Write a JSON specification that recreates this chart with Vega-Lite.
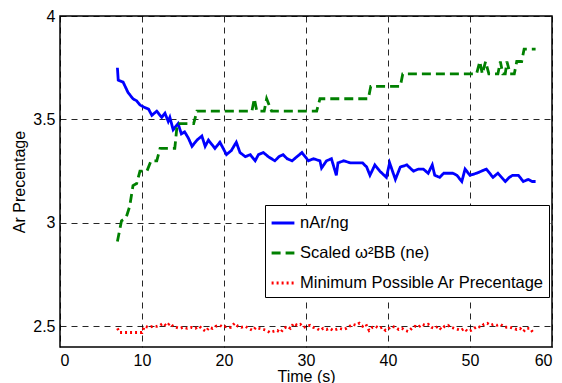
{
  "$schema": "https://vega.github.io/schema/vega-lite/v6.json",
  "width": 492,
  "height": 331,
  "autosize": {"type": "none"},
  "padding": {"left": 60, "top": 16, "right": 10, "bottom": 36},
  "background": "white",
  "config": {
    "font": "Liberation Sans",
    "view": {"stroke": "#000", "strokeWidth": 1.5},
    "axis": {
      "domain": false,
      "ticks": false,
      "grid": true,
      "gridColor": "#000",
      "gridDash": [6, 5],
      "gridOpacity": 0.85,
      "gridWidth": 1,
      "labelFont": "Liberation Sans",
      "labelFontSize": 16,
      "labelColor": "#000",
      "titleFont": "Liberation Sans",
      "titleFontSize": 16,
      "titleFontWeight": "normal",
      "titleColor": "#000"
    },
    "legend": {
      "title": null,
      "orient": "none",
      "legendX": 205,
      "legendY": 189,
      "direction": "vertical",
      "strokeColor": "#000",
      "fillColor": "#fff",
      "padding": 5,
      "rowPadding": 8,
      "labelFont": "Liberation Sans",
      "labelFontSize": 16.5,
      "labelColor": "#000",
      "labelOffset": 4,
      "labelLimit": 0,
      "symbolType": "stroke",
      "symbolSize": 520,
      "symbolStrokeWidth": 2.8
    }
  },
  "datasets": {
    "series": [
      {"t": 7.0, "y": 3.75, "s": "ratio"},
      {"t": 7.1, "y": 3.69, "s": "ratio"},
      {"t": 7.7, "y": 3.68, "s": "ratio"},
      {"t": 8.3, "y": 3.63, "s": "ratio"},
      {"t": 8.9, "y": 3.60, "s": "ratio"},
      {"t": 9.35, "y": 3.59, "s": "ratio"},
      {"t": 9.75, "y": 3.57, "s": "ratio"},
      {"t": 10.2, "y": 3.56, "s": "ratio"},
      {"t": 10.8, "y": 3.55, "s": "ratio"},
      {"t": 11.2, "y": 3.52, "s": "ratio"},
      {"t": 11.8, "y": 3.54, "s": "ratio"},
      {"t": 12.4, "y": 3.51, "s": "ratio"},
      {"t": 12.8, "y": 3.53, "s": "ratio"},
      {"t": 13.2, "y": 3.49, "s": "ratio"},
      {"t": 13.4, "y": 3.51, "s": "ratio"},
      {"t": 13.8, "y": 3.45, "s": "ratio"},
      {"t": 14.4, "y": 3.48, "s": "ratio"},
      {"t": 14.8, "y": 3.43, "s": "ratio"},
      {"t": 15.2, "y": 3.44, "s": "ratio"},
      {"t": 15.65, "y": 3.41, "s": "ratio"},
      {"t": 16.1, "y": 3.37, "s": "ratio"},
      {"t": 16.7, "y": 3.40, "s": "ratio"},
      {"t": 17.3, "y": 3.42, "s": "ratio"},
      {"t": 17.7, "y": 3.37, "s": "ratio"},
      {"t": 18.1, "y": 3.40, "s": "ratio"},
      {"t": 18.5, "y": 3.38, "s": "ratio"},
      {"t": 18.9, "y": 3.36, "s": "ratio"},
      {"t": 19.5, "y": 3.39, "s": "ratio"},
      {"t": 20.3, "y": 3.33, "s": "ratio"},
      {"t": 20.9, "y": 3.35, "s": "ratio"},
      {"t": 21.5, "y": 3.39, "s": "ratio"},
      {"t": 21.95, "y": 3.34, "s": "ratio"},
      {"t": 22.6, "y": 3.32, "s": "ratio"},
      {"t": 23.2, "y": 3.33, "s": "ratio"},
      {"t": 23.8, "y": 3.30, "s": "ratio"},
      {"t": 24.2, "y": 3.33, "s": "ratio"},
      {"t": 24.8, "y": 3.34, "s": "ratio"},
      {"t": 25.4, "y": 3.32, "s": "ratio"},
      {"t": 26.2, "y": 3.30, "s": "ratio"},
      {"t": 26.7, "y": 3.32, "s": "ratio"},
      {"t": 27.2, "y": 3.33, "s": "ratio"},
      {"t": 27.7, "y": 3.31, "s": "ratio"},
      {"t": 28.3, "y": 3.30, "s": "ratio"},
      {"t": 28.9, "y": 3.32, "s": "ratio"},
      {"t": 29.5, "y": 3.34, "s": "ratio"},
      {"t": 30.3, "y": 3.30, "s": "ratio"},
      {"t": 30.9, "y": 3.31, "s": "ratio"},
      {"t": 31.7, "y": 3.30, "s": "ratio"},
      {"t": 31.9, "y": 3.265, "s": "ratio"},
      {"t": 32.5, "y": 3.30, "s": "ratio"},
      {"t": 33.1, "y": 3.31, "s": "ratio"},
      {"t": 33.7, "y": 3.23, "s": "ratio"},
      {"t": 33.9, "y": 3.29, "s": "ratio"},
      {"t": 34.6, "y": 3.30, "s": "ratio"},
      {"t": 35.4, "y": 3.29, "s": "ratio"},
      {"t": 36.1, "y": 3.29, "s": "ratio"},
      {"t": 36.9, "y": 3.29, "s": "ratio"},
      {"t": 37.4, "y": 3.27, "s": "ratio"},
      {"t": 37.8, "y": 3.23, "s": "ratio"},
      {"t": 38.4, "y": 3.28, "s": "ratio"},
      {"t": 39.0, "y": 3.25, "s": "ratio"},
      {"t": 39.8, "y": 3.22, "s": "ratio"},
      {"t": 40.2, "y": 3.29, "s": "ratio"},
      {"t": 40.9, "y": 3.21, "s": "ratio"},
      {"t": 41.5, "y": 3.27, "s": "ratio"},
      {"t": 42.3, "y": 3.28, "s": "ratio"},
      {"t": 43.1, "y": 3.25, "s": "ratio"},
      {"t": 43.7, "y": 3.26, "s": "ratio"},
      {"t": 44.3, "y": 3.26, "s": "ratio"},
      {"t": 44.9, "y": 3.24, "s": "ratio"},
      {"t": 45.4, "y": 3.28, "s": "ratio"},
      {"t": 45.7, "y": 3.23, "s": "ratio"},
      {"t": 46.3, "y": 3.22, "s": "ratio"},
      {"t": 46.8, "y": 3.24, "s": "ratio"},
      {"t": 47.3, "y": 3.24, "s": "ratio"},
      {"t": 47.9, "y": 3.24, "s": "ratio"},
      {"t": 48.4, "y": 3.23, "s": "ratio"},
      {"t": 49.0, "y": 3.20, "s": "ratio"},
      {"t": 49.4, "y": 3.26, "s": "ratio"},
      {"t": 50.0, "y": 3.23, "s": "ratio"},
      {"t": 50.8, "y": 3.24, "s": "ratio"},
      {"t": 51.4, "y": 3.25, "s": "ratio"},
      {"t": 52.0, "y": 3.26, "s": "ratio"},
      {"t": 52.8, "y": 3.22, "s": "ratio"},
      {"t": 53.4, "y": 3.24, "s": "ratio"},
      {"t": 54.3, "y": 3.20, "s": "ratio"},
      {"t": 54.8, "y": 3.22, "s": "ratio"},
      {"t": 55.2, "y": 3.23, "s": "ratio"},
      {"t": 55.9, "y": 3.23, "s": "ratio"},
      {"t": 56.5, "y": 3.20, "s": "ratio"},
      {"t": 57.1, "y": 3.21, "s": "ratio"},
      {"t": 57.6, "y": 3.20, "s": "ratio"},
      {"t": 58.0, "y": 3.20, "s": "ratio"},

      {"t": 7.0, "y": 2.91, "s": "scaled"},
      {"t": 7.5, "y": 3.01, "s": "scaled"},
      {"t": 7.9, "y": 3.02, "s": "scaled"},
      {"t": 8.1, "y": 3.03, "s": "scaled"},
      {"t": 8.5, "y": 3.08, "s": "scaled"},
      {"t": 8.9, "y": 3.18, "s": "scaled"},
      {"t": 9.35, "y": 3.19, "s": "scaled"},
      {"t": 9.75, "y": 3.25, "s": "scaled"},
      {"t": 10.6, "y": 3.25, "s": "scaled"},
      {"t": 11.1, "y": 3.30, "s": "scaled"},
      {"t": 11.8, "y": 3.30, "s": "scaled"},
      {"t": 12.2, "y": 3.36, "s": "scaled"},
      {"t": 14.0, "y": 3.36, "s": "scaled"},
      {"t": 14.3, "y": 3.48, "s": "scaled"},
      {"t": 16.3, "y": 3.48, "s": "scaled"},
      {"t": 16.7, "y": 3.54, "s": "scaled"},
      {"t": 23.4, "y": 3.54, "s": "scaled"},
      {"t": 23.7, "y": 3.60, "s": "scaled"},
      {"t": 24.0, "y": 3.54, "s": "scaled"},
      {"t": 24.9, "y": 3.54, "s": "scaled"},
      {"t": 25.2, "y": 3.60, "s": "scaled"},
      {"t": 25.8, "y": 3.54, "s": "scaled"},
      {"t": 31.3, "y": 3.54, "s": "scaled"},
      {"t": 31.7, "y": 3.60, "s": "scaled"},
      {"t": 37.6, "y": 3.60, "s": "scaled"},
      {"t": 37.9, "y": 3.66, "s": "scaled"},
      {"t": 41.5, "y": 3.66, "s": "scaled"},
      {"t": 41.8, "y": 3.72, "s": "scaled"},
      {"t": 50.8, "y": 3.72, "s": "scaled"},
      {"t": 51.2, "y": 3.78, "s": "scaled"},
      {"t": 51.5, "y": 3.72, "s": "scaled"},
      {"t": 51.9, "y": 3.78, "s": "scaled"},
      {"t": 52.3, "y": 3.72, "s": "scaled"},
      {"t": 53.4, "y": 3.72, "s": "scaled"},
      {"t": 53.7, "y": 3.78, "s": "scaled"},
      {"t": 54.0, "y": 3.72, "s": "scaled"},
      {"t": 54.3, "y": 3.72, "s": "scaled"},
      {"t": 54.5, "y": 3.78, "s": "scaled"},
      {"t": 54.9, "y": 3.72, "s": "scaled"},
      {"t": 55.4, "y": 3.72, "s": "scaled"},
      {"t": 55.7, "y": 3.78, "s": "scaled"},
      {"t": 56.3, "y": 3.78, "s": "scaled"},
      {"t": 56.6, "y": 3.84, "s": "scaled"},
      {"t": 58.0, "y": 3.84, "s": "scaled"},

      {"t": 7.0, "y": 2.49, "s": "min"},
      {"t": 7.3, "y": 2.47, "s": "min"},
      {"t": 8.0, "y": 2.47, "s": "min"},
      {"t": 8.7, "y": 2.47, "s": "min"},
      {"t": 9.4, "y": 2.47, "s": "min"},
      {"t": 10.0, "y": 2.47, "s": "min"},
      {"t": 10.3, "y": 2.50, "s": "min"},
      {"t": 10.8, "y": 2.495, "s": "min"},
      {"t": 11.3, "y": 2.50, "s": "min"},
      {"t": 11.8, "y": 2.50, "s": "min"},
      {"t": 12.2, "y": 2.505, "s": "min"},
      {"t": 12.6, "y": 2.515, "s": "min"},
      {"t": 13.0, "y": 2.50, "s": "min"},
      {"t": 13.4, "y": 2.515, "s": "min"},
      {"t": 13.8, "y": 2.50, "s": "min"},
      {"t": 14.2, "y": 2.495, "s": "min"},
      {"t": 14.6, "y": 2.49, "s": "min"},
      {"t": 15.0, "y": 2.495, "s": "min"},
      {"t": 15.5, "y": 2.49, "s": "min"},
      {"t": 16.0, "y": 2.495, "s": "min"},
      {"t": 16.5, "y": 2.49, "s": "min"},
      {"t": 17.0, "y": 2.50, "s": "min"},
      {"t": 17.4, "y": 2.485, "s": "min"},
      {"t": 17.8, "y": 2.475, "s": "min"},
      {"t": 18.2, "y": 2.495, "s": "min"},
      {"t": 18.6, "y": 2.49, "s": "min"},
      {"t": 19.0, "y": 2.50, "s": "min"},
      {"t": 19.5, "y": 2.505, "s": "min"},
      {"t": 19.9, "y": 2.495, "s": "min"},
      {"t": 20.3, "y": 2.50, "s": "min"},
      {"t": 20.8, "y": 2.495, "s": "min"},
      {"t": 21.3, "y": 2.515, "s": "min"},
      {"t": 21.7, "y": 2.50, "s": "min"},
      {"t": 22.1, "y": 2.495, "s": "min"},
      {"t": 22.6, "y": 2.50, "s": "min"},
      {"t": 23.0, "y": 2.49, "s": "min"},
      {"t": 23.5, "y": 2.48, "s": "min"},
      {"t": 23.9, "y": 2.495, "s": "min"},
      {"t": 24.3, "y": 2.49, "s": "min"},
      {"t": 24.8, "y": 2.485, "s": "min"},
      {"t": 25.2, "y": 2.48, "s": "min"},
      {"t": 25.6, "y": 2.47, "s": "min"},
      {"t": 26.0, "y": 2.475, "s": "min"},
      {"t": 26.5, "y": 2.48, "s": "min"},
      {"t": 26.9, "y": 2.47, "s": "min"},
      {"t": 27.3, "y": 2.49, "s": "min"},
      {"t": 27.7, "y": 2.50, "s": "min"},
      {"t": 28.1, "y": 2.49, "s": "min"},
      {"t": 28.5, "y": 2.515, "s": "min"},
      {"t": 28.9, "y": 2.505, "s": "min"},
      {"t": 29.3, "y": 2.51, "s": "min"},
      {"t": 29.7, "y": 2.495, "s": "min"},
      {"t": 30.1, "y": 2.50, "s": "min"},
      {"t": 30.5, "y": 2.505, "s": "min"},
      {"t": 30.9, "y": 2.495, "s": "min"},
      {"t": 31.3, "y": 2.49, "s": "min"},
      {"t": 31.7, "y": 2.48, "s": "min"},
      {"t": 32.1, "y": 2.49, "s": "min"},
      {"t": 32.5, "y": 2.485, "s": "min"},
      {"t": 32.9, "y": 2.49, "s": "min"},
      {"t": 33.3, "y": 2.48, "s": "min"},
      {"t": 33.7, "y": 2.485, "s": "min"},
      {"t": 34.1, "y": 2.49, "s": "min"},
      {"t": 34.5, "y": 2.485, "s": "min"},
      {"t": 34.9, "y": 2.49, "s": "min"},
      {"t": 35.3, "y": 2.50, "s": "min"},
      {"t": 35.7, "y": 2.51, "s": "min"},
      {"t": 36.1, "y": 2.505, "s": "min"},
      {"t": 36.5, "y": 2.515, "s": "min"},
      {"t": 36.9, "y": 2.50, "s": "min"},
      {"t": 37.3, "y": 2.51, "s": "min"},
      {"t": 37.7, "y": 2.48, "s": "min"},
      {"t": 38.1, "y": 2.495, "s": "min"},
      {"t": 38.5, "y": 2.50, "s": "min"},
      {"t": 38.9, "y": 2.49, "s": "min"},
      {"t": 39.3, "y": 2.495, "s": "min"},
      {"t": 39.7, "y": 2.48, "s": "min"},
      {"t": 40.1, "y": 2.49, "s": "min"},
      {"t": 40.5, "y": 2.50, "s": "min"},
      {"t": 40.9, "y": 2.495, "s": "min"},
      {"t": 41.3, "y": 2.485, "s": "min"},
      {"t": 41.7, "y": 2.49, "s": "min"},
      {"t": 42.1, "y": 2.48, "s": "min"},
      {"t": 42.5, "y": 2.475, "s": "min"},
      {"t": 42.9, "y": 2.49, "s": "min"},
      {"t": 43.3, "y": 2.50, "s": "min"},
      {"t": 43.7, "y": 2.495, "s": "min"},
      {"t": 44.1, "y": 2.51, "s": "min"},
      {"t": 44.5, "y": 2.505, "s": "min"},
      {"t": 44.9, "y": 2.51, "s": "min"},
      {"t": 45.3, "y": 2.495, "s": "min"},
      {"t": 45.7, "y": 2.49, "s": "min"},
      {"t": 46.1, "y": 2.50, "s": "min"},
      {"t": 46.5, "y": 2.485, "s": "min"},
      {"t": 46.9, "y": 2.50, "s": "min"},
      {"t": 47.3, "y": 2.505, "s": "min"},
      {"t": 47.7, "y": 2.495, "s": "min"},
      {"t": 48.1, "y": 2.49, "s": "min"},
      {"t": 48.5, "y": 2.485, "s": "min"},
      {"t": 48.9, "y": 2.48, "s": "min"},
      {"t": 49.3, "y": 2.49, "s": "min"},
      {"t": 49.7, "y": 2.475, "s": "min"},
      {"t": 50.1, "y": 2.48, "s": "min"},
      {"t": 50.5, "y": 2.49, "s": "min"},
      {"t": 50.9, "y": 2.50, "s": "min"},
      {"t": 51.3, "y": 2.495, "s": "min"},
      {"t": 51.7, "y": 2.51, "s": "min"},
      {"t": 52.1, "y": 2.515, "s": "min"},
      {"t": 52.5, "y": 2.505, "s": "min"},
      {"t": 52.9, "y": 2.51, "s": "min"},
      {"t": 53.3, "y": 2.505, "s": "min"},
      {"t": 53.7, "y": 2.51, "s": "min"},
      {"t": 54.1, "y": 2.50, "s": "min"},
      {"t": 54.5, "y": 2.495, "s": "min"},
      {"t": 54.9, "y": 2.495, "s": "min"},
      {"t": 55.3, "y": 2.49, "s": "min"},
      {"t": 55.7, "y": 2.485, "s": "min"},
      {"t": 56.1, "y": 2.49, "s": "min"},
      {"t": 56.5, "y": 2.475, "s": "min"},
      {"t": 56.9, "y": 2.49, "s": "min"},
      {"t": 57.3, "y": 2.49, "s": "min"},
      {"t": 57.7, "y": 2.47, "s": "min"}
    ]
  },
  "data": {"name": "series"},
  "mark": {"type": "line", "strokeWidth": 2.8, "interpolate": "linear"},
  "encoding": {
    "x": {
      "field": "t",
      "type": "quantitative",
      "scale": {"domain": [0, 60], "nice": false, "zero": false},
      "axis": {"title": "Time (s)", "values": [0, 10, 20, 30, 40, 50, 60], "labelPadding": 5, "titlePadding": 0, "format": "d"}
    },
    "y": {
      "field": "y",
      "type": "quantitative",
      "scale": {"domain": [2.4, 4], "nice": false, "zero": false},
      "axis": {"title": "Ar Precentage", "values": [2.5, 3, 3.5, 4], "format": "~g", "labelPadding": 5, "titlePadding": 5}
    },
    "color": {
      "field": "s",
      "type": "nominal",
      "sort": ["ratio", "scaled", "min"],
      "scale": {"domain": ["ratio", "scaled", "min"], "range": ["#0000ff", "#008000", "#ff0000"]},
      "legend": {
        "labelExpr": "datum.value == 'ratio' ? 'nAr/ng' : datum.value == 'scaled' ? 'Scaled ω²BB (ne)' : 'Minimum Possible Ar Precentage'"
      }
    },
    "strokeDash": {
      "field": "s",
      "type": "nominal",
      "sort": ["ratio", "scaled", "min"],
      "scale": {"domain": ["ratio", "scaled", "min"], "range": [[1, 0], [9, 5], [2, 3]]},
      "legend": {
        "labelExpr": "datum.value == 'ratio' ? 'nAr/ng' : datum.value == 'scaled' ? 'Scaled ω²BB (ne)' : 'Minimum Possible Ar Precentage'"
      }
    }
  }
}
